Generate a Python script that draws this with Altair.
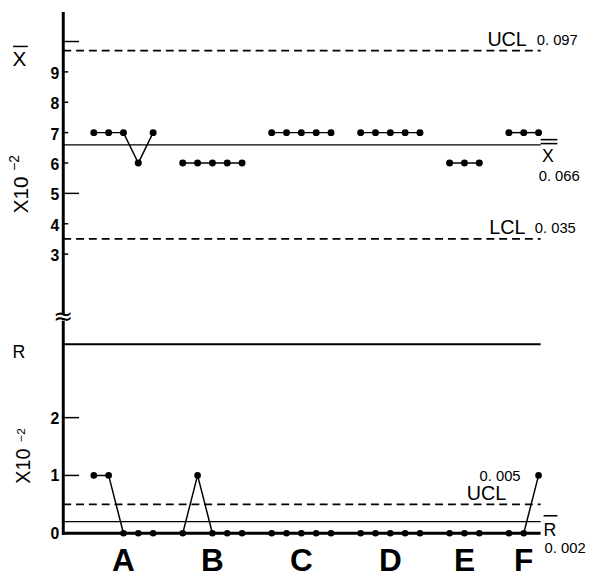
import altair as alt
import pandas as pd

# ---------------- data ----------------
groups = ["A", "B", "C", "D", "E", "F"]
xbar_values = [[7, 7, 7, 6, 7], [6, 6, 6, 6, 6], [7, 7, 7, 7, 7],
               [7, 7, 7, 7, 7], [6, 6, 6], [7, 7, 7]]          # x 10^-2
r_values = [[1, 1, 0, 0, 0], [0, 1, 0, 0, 0], [0, 0, 0, 0, 0],
            [0, 0, 0, 0, 0], [0, 0, 0], [0, 0, 1]]             # x 10^-2
xbar_ucl, xbar_cl, xbar_lcl = 9.7, 6.6, 3.5
r_ucl, r_cl = 0.5, 0.2
r_frame = 3.27
xbar_ucl_txt, xbar_cl_txt, xbar_lcl_txt = "0. 097", "0. 066", "0. 035"
r_ucl_txt, r_cl_txt = "0. 005", "0. 002"
xbar_ticks = [3, 4, 6, 7, 8, 9]
xbar_long_ticks = [5, 10]
xbar_tick_labels = [3, 4, 5, 6, 7, 8, 9]
r_ticks = [1, 2]
r_tick_labels = [0, 1, 2]

# ---------------- tables ----------------
rows = []
start = 0
centers = []
for g, xv, rv in zip(groups, xbar_values, r_values):
    for j, (a, b) in enumerate(zip(xv, rv)):
        rows.append({"group": g, "i": start + j, "xbar": a, "r": b})
    centers.append(start + (len(xv) - 1) / 2)
    start += len(xv) + 1
pts = pd.DataFrame(rows)
last_i = pts["i"].max()

AX = -2.06           # position of the vertical axis (sample-index units)
XE = last_i + 0.14   # end of the control lines
PX = 15.03           # px per index unit
PT = 30.79           # px per unit, X-bar panel
PR = 58.6            # px per unit, R panel

xs = alt.Scale(domain=[-5.788, 33.267], nice=False, zero=False)
yt = alt.Scale(domain=[-7.765, 10.974], nice=False, zero=False)
yb = alt.Scale(domain=[-0.8276, 9.019], nice=False, zero=False)

FONT = "Liberation Sans, Arial, sans-serif"


def X(f="x"):
    return alt.X(f, type="quantitative", scale=xs, axis=None)


def Y(f, s):
    return alt.Y(f, type="quantitative", scale=s, axis=None)


def hrule(y, x0, x1, s, **kw):
    d = pd.DataFrame({"y": y, "x": x0, "x2": x1})
    return alt.Chart(d).mark_rule(color="black", **kw).encode(
        x=X("x"), x2="x2:Q", y=Y("y", s))


def vrule(x, y0, y1, s, **kw):
    d = pd.DataFrame({"x": x, "y": y0, "y2": y1})
    return alt.Chart(d).mark_rule(color="black", **kw).encode(
        x=X("x"), y=Y("y", s), y2="y2:Q")


def text(t, x, y, s, **kw):
    d = pd.DataFrame({"t": t, "x": x, "y": y})
    kw.setdefault("font", FONT)
    return alt.Chart(d).mark_text(color="black", **kw).encode(
        x=X("x"), y=Y("y", s), text="t:N")


layers = []

# ---- axes frame ----
layers.append(vrule([AX], [10.974], [1.0], yt, strokeWidth=3))
layers.append(vrule([AX], [3.677], [-0.03], yb, strokeWidth=3))
layers.append(text(["\u2248"], [AX], [3.737], yb,
                   fontSize=24, font="DejaVu Sans", baseline="middle"))
layers.append(hrule([0.0], [AX], [XE], yb, strokeWidth=3))
layers.append(hrule([r_frame], [AX], [XE], yb, strokeWidth=2))

# ticks
layers.append(hrule(xbar_ticks, [AX] * len(xbar_ticks),
                    [AX + 5 / PX] * len(xbar_ticks), yt, strokeWidth=1.5))
layers.append(hrule(xbar_long_ticks, [AX] * 2, [AX + 16 / PX] * 2, yt,
                    strokeWidth=1.5))
layers.append(hrule(r_ticks, [AX] * 2, [AX + 16 / PX] * 2, yb, strokeWidth=1.5))

# tick labels
lx = AX - 4 / PX
layers.append(text([str(v) for v in xbar_tick_labels], [lx] * 7, xbar_tick_labels, yt,
                   fontSize=16, fontWeight="bold", align="right", baseline="middle", dy=2))
layers.append(text([str(v) for v in r_tick_labels], [lx] * 3, r_tick_labels, yb,
                   fontSize=16, fontWeight="bold", align="right", baseline="middle", dy=1))

# left titles
layers.append(text(["X"], [AX - 44.5 / PX], [10 - 25 / PT], yt, fontSize=21,
                   align="center", baseline="alphabetic"))
layers.append(hrule([10 - 5 / PT], [AX - 51 / PX], [AX - 36 / PX], yt, strokeWidth=1.5))
layers.append(text(["X10"], [AX - 41.5 / PX], [4.95], yt, fontSize=21,
                   angle=270, align="center", baseline="middle"))
layers.append(text(["\u22122"], [AX - 48.5 / PX], [6.0], yt, fontSize=14,
                   angle=270, align="center", baseline="middle"))
layers.append(text(["R"], [AX - 45 / PX], [3.114], yb, fontSize=18,
                   align="center", baseline="middle"))
layers.append(text(["X10"], [AX - 40 / PX], [1.16], yb, fontSize=20,
                   angle=270, align="center", baseline="middle"))
layers.append(text(["\u22122"], [AX - 43 / PX], [1.70], yb, fontSize=12,
                   angle=270, align="center", baseline="middle"))

# ---- control lines ----
dash = [8, 5]
layers.append(hrule([xbar_ucl, xbar_lcl], [AX] * 2, [XE] * 2, yt,
                    strokeWidth=1.8, strokeDash=dash))
layers.append(hrule([xbar_cl], [AX], [XE], yt, strokeWidth=1.3))
layers.append(hrule([r_ucl], [AX], [XE], yb, strokeWidth=1.8, strokeDash=dash))
layers.append(hrule([r_cl], [AX], [XE], yb, strokeWidth=1.3))

# ---- data ----
layers.append(alt.Chart(pts).mark_line(color="black", strokeWidth=1.5).encode(
    x=X("i"), y=Y("xbar", yt), detail="group:N"))
layers.append(alt.Chart(pts).mark_circle(color="black", size=50, opacity=1).encode(
    x=X("i"), y=Y("xbar", yt)))
layers.append(alt.Chart(pts).mark_line(color="black", strokeWidth=1.5).encode(
    x=X("i"), y=Y("r", yb), detail="group:N"))
layers.append(alt.Chart(pts).mark_circle(color="black", size=45, opacity=1).encode(
    x=X("i"), y=Y("r", yb)))

# group labels
layers.append(text(groups, centers, [-38.5 / PR] * len(groups), yb, fontSize=32,
                   fontWeight="bold", align="center", baseline="alphabetic"))

# ---- right-side annotations ----
NUM = 15
layers.append(text(["UCL", "LCL"], [XE - 54 / PX, XE - 52 / PX],
                   [xbar_ucl + 4.2 / PT, xbar_lcl + 5.2 / PT], yt,
                   fontSize=20, align="left", baseline="alphabetic"))
layers.append(text([xbar_ucl_txt, xbar_lcl_txt], [XE - 4 / PX, XE - 6 / PX],
                   [xbar_ucl + 6.2 / PT, xbar_lcl + 6.2 / PT], yt,
                   fontSize=NUM, align="left", baseline="alphabetic"))
layers.append(hrule([xbar_cl + 5.2 / PT, xbar_cl + 1.2 / PT], [XE] * 2,
                    [XE + 17 / PX] * 2, yt, strokeWidth=1.6))
layers.append(text(["X"], [XE + 7.5 / PX], [xbar_cl - 17.3 / PT], yt, fontSize=18,
                   align="center", baseline="alphabetic"))
layers.append(text([xbar_cl_txt], [XE - 2 / PX], [xbar_cl - 36.3 / PT], yt,
                   fontSize=NUM, align="left", baseline="alphabetic"))

layers.append(text(["UCL"], [XE - 75 / PX], [r_ucl + 4.2 / PR], yb,
                   fontSize=20, align="left", baseline="alphabetic"))
layers.append(text([r_ucl_txt], [XE - 62 / PX], [r_ucl + 23.2 / PR], yb,
                   fontSize=NUM, align="left", baseline="alphabetic"))
layers.append(hrule([r_cl + 6 / PR], [XE + 3 / PX], [XE + 17 / PX], yb, strokeWidth=1.6))
layers.append(text(["R"], [XE + 9.5 / PX], [-2.5 / PR], yb, fontSize=18,
                   align="center", baseline="alphabetic"))
layers.append(text([r_cl_txt], [XE + 4 / PX], [-20.5 / PR], yb,
                   fontSize=NUM, align="left", baseline="alphabetic"))

chart = alt.layer(*layers).resolve_scale(y="independent").properties(
    width=587, height=577, padding=0,
    autosize=alt.AutoSizeParams(type="none"),
).configure_view(stroke=None)

chart.save("out.html", embed_options={"renderer": "svg", "actions": False})
